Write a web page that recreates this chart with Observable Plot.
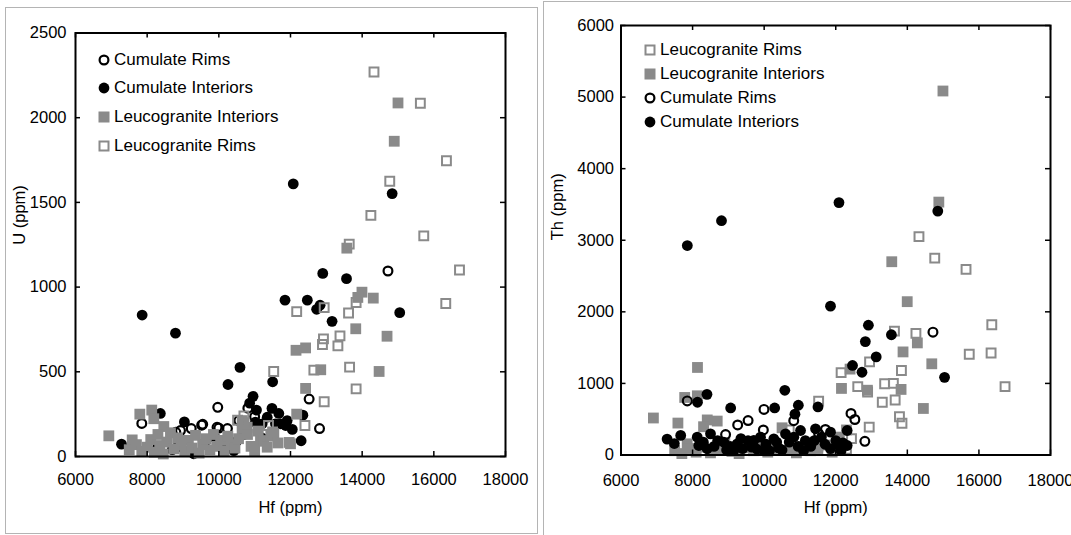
<!DOCTYPE html>
<html><head><meta charset="utf-8">
<script src="https://cdn.jsdelivr.net/npm/d3@7"></script>
<script src="https://cdn.jsdelivr.net/npm/@observablehq/plot@0.6"></script>
<style>
body{margin:0;background:#fff;width:1071px;height:535px;position:relative;overflow:hidden;font-family:"Liberation Sans",Arial,sans-serif;}
.panel{position:absolute;}
.border{position:absolute;border:1.5px solid #b4b4b4;box-sizing:border-box;}
.lg{position:absolute;font-size:17px;line-height:20px;height:20px;white-space:nowrap;color:#000;}
.lgs{position:absolute;}
</style></head><body>
<div class="border" style="left:5px;top:7px;width:533px;height:527px"></div>
<div class="border" style="left:543px;top:1px;width:540px;height:540px"></div>
<div id="left" class="panel" style="left:0;top:0"></div>
<div id="right" class="panel" style="left:540px;top:0"></div>
<div id="legend"></div>
<script>
// ---------- tick values ----------
const hfTicks = [6000, 8000, 10000, 12000, 14000, 16000, 18000];
const uTicks = [0, 500, 1000, 1500, 2000, 2500];
const thTicks = [0, 1000, 2000, 3000, 4000, 5000, 6000];

// ---------- left panel: Hf vs U ----------
const cumRimsU = [[14720,1095],[12520,339],[12810,165],[9970,290],[7850,195],[9520,185],[9230,165],[9950,172],[10240,165],[10810,285],[11000,235],[8800,143],[9550,190],[10000,168],[10560,212],[8930,153]];
const cumIntU = [[7860,835],[8790,728],[12077,1609],[14837,1552],[12900,1081],[13563,1050],[11847,923],[12470,923],[12729,869],[12825,893],[13160,798],[15048,849],[10590,526],[10256,425],[11502,441],[10955,355],[10860,315],[11051,274],[11483,284],[11674,254],[11866,183],[12345,244],[12297,93],[7284,73],[8368,254],[9039,204],[11720,193],[11020,203],[11210,193],[11350,232],[11580,193],[11907,212],[8840,55],[9300,16],[10420,35],[8700,40],[9600,80],[9900,110],[10200,50],[10700,130],[11200,110],[10500,90],[8300,60],[12050,160]];
const leucoIntU = [[15000,2087],[14895,1861],[13572,1230],[13994,970],[13879,939],[14310,935],[13821,754],[14694,710],[14473,502],[12154,627],[12422,641],[12844,512],[12422,402],[12173,250],[11962,83],[6930,122],[7795,250],[8128,274],[8186,223],[8465,177],[7582,98],[11535,134],[11163,94],[10652,212],[10791,173],[12000,75],[7500,40],[7700,70],[7850,30],[8000,55],[8100,100],[8200,25],[8300,130],[8350,65],[8450,15],[8550,85],[8650,140],[8750,45],[8850,110],[8950,70],[9050,30],[9150,95],[9250,50],[9350,125],[9450,20],[9550,70],[9650,105],[9750,40],[9850,130],[9950,60],[10050,95],[10150,30],[10250,120],[10350,70],[10450,50],[10550,105],[10650,165],[10700,200],[10800,130],[10900,60],[11000,30],[11100,150],[11250,90],[11350,55],[11450,120],[11500,145],[11650,80]];
const leucoRimsU = [[14330,2270],[15624,2085],[16352,1746],[14770,1625],[14243,1423],[15719,1302],[13639,1254],[16716,1101],[16333,903],[12173,855],[12940,879],[13620,847],[13831,909],[13381,712],[13323,653],[12920,694],[12892,661],[12652,510],[13649,528],[13831,399],[12940,323],[12403,183],[11531,502],[10524,214],[11386,183],[10700,240]];

// ---------- right panel: Hf vs Th ----------
const leucoRimsTh = [[14325,3050],[14766,2750],[15640,2593],[16360,1820],[16340,1425],[15730,1408],[16730,955],[14240,1700],[13640,1730],[13835,1180],[13366,995],[13610,1000],[13300,737],[13660,768],[13780,535],[13850,443],[12935,390],[12945,1300],[12150,1150],[12615,956],[11522,752],[12890,880],[12440,228],[10700,350],[11500,120],[12300,80]];
const leucoIntTh = [[14995,5085],[14880,3533],[13565,2700],[13997,2142],[14280,1566],[13880,1440],[14683,1274],[14448,650],[13825,916],[12885,905],[12160,930],[12400,1200],[8137,1223],[6905,517],[7590,446],[7780,804],[8133,827],[8410,490],[8688,474],[8307,395],[7849,156],[7500,60],[7700,20],[7900,90],[8100,40],[8300,110],[8500,30],[8700,80],[8900,160],[9100,50],[9300,20],[9500,100],[9700,60],[9900,130],[10100,40],[10300,90],[10500,380],[10700,70],[10900,30],[11100,120],[11300,60],[11500,90],[11700,140],[11900,40],[12100,250],[12300,350]];
const cumRimsTh = [[14716,1716],[7851,756],[9995,637],[9551,481],[9260,420],[8922,285],[9977,350],[10826,479],[12426,580],[12534,496],[12813,191],[11711,357],[11522,300]];
const cumIntTh = [[7853,2926],[8808,3273],[12090,3526],[14851,3407],[11853,2079],[12912,1813],[12827,1584],[13555,1680],[13130,1370],[12468,1251],[12733,1156],[15040,1085],[10577,904],[8402,847],[8137,737],[9064,657],[10293,657],[10955,695],[11503,671],[10860,571],[7288,222],[7490,160],[7668,274],[8130,249],[8174,133],[8408,87],[8501,296],[8700,200],[8872,179],[9050,120],[9247,156],[9400,90],[9550,200],[9710,203],[9898,249],[10050,150],[10269,226],[10400,100],[10596,296],[10700,180],[10829,249],[11016,342],[11150,200],[11300,120],[11435,366],[11600,250],[11853,319],[12000,200],[12086,133],[12319,342],[12319,133],[8300,180],[9150,60],[9800,80],[10150,60],[10950,120],[11700,150],[12200,170],[8600,120],[8950,70],[9350,230],[9650,110],[10000,60],[10350,180],[10500,70],[11100,60],[11400,200],[11850,90],[12150,60]];

// ---------- series names (legend order) ----------
const leftNames = ["Cumulate Rims", "Cumulate Interiors", "Leucogranite Interiors", "Leucogranite Rims"];
const rightNames = ["Leucogranite Rims", "Leucogranite Interiors", "Cumulate Rims", "Cumulate Interiors"];

const GREY = "#8a8a8a";
const styles = {
  "Cumulate Rims": {symbol: "circle", r: 4.4, fill: "none", stroke: "#000", sw: 2.2},
  "Cumulate Interiors": {symbol: "circle", r: 5.4, fill: "#000", stroke: "none", sw: 0},
  "Leucogranite Interiors": {symbol: "square", r: 6.1, fill: GREY, stroke: "none", sw: 0},
  "Leucogranite Rims": {symbol: "square", r: 5.0, fill: "none", stroke: GREY, sw: 2}
};

function panel(o) {
  const ih = o.height - o.mt - o.mb;
  const iw = o.width - o.ml - o.mr;
  const marks = [];
  o.series.forEach(([name, data]) => {
    const s = styles[name];
    marks.push(Plot.dot(data, {x: d => d[0], y: d => d[1], symbol: s.symbol, r: s.r, fill: s.fill, stroke: s.stroke, strokeWidth: s.sw}));
  });
  marks.push(
    Plot.tickX(hfTicks, {x: d => d, insetTop: ih - 5, stroke: "#000", strokeWidth: 1.5}),
    Plot.tickX(hfTicks, {x: d => d, insetBottom: ih - 5, stroke: "#000", strokeWidth: 1.5}),
    Plot.tickY(o.yTicks, {y: d => d, insetRight: iw - 5, stroke: "#000", strokeWidth: 1.5}),
    Plot.tickY(o.yTicks, {y: d => d, insetLeft: iw - 5, stroke: "#000", strokeWidth: 1.5}),
    Plot.axisX(hfTicks, {anchor: "bottom", tickSize: 0, tickPadding: o.xPad, tickFormat: d => String(d), label: null, fontSize: 16.5}),
    Plot.axisY(o.yTicks, {anchor: "left", tickSize: 0, tickPadding: o.yPad, tickFormat: d => String(d), label: null, fontSize: 16.5}),
    Plot.text(["Hf (ppm)"], {frameAnchor: "bottom", dy: o.xLabDy, text: d => d, fontSize: 16.5, fill: "#000"}),
    Plot.text([o.yLabel], {frameAnchor: "left", dx: o.yLabDx, text: d => d, rotate: -90, fontSize: 16.5, fill: "#000"}),
    Plot.frame({stroke: "#000", strokeWidth: 2})
  );
  return Plot.plot({
    width: o.width, height: o.height,
    marginLeft: o.ml, marginRight: o.mr, marginTop: o.mt, marginBottom: o.mb,
    x: {domain: [6000, 18000]},
    y: {domain: o.yDomain},
    style: {fontFamily: "Liberation Sans, Arial, sans-serif", fontSize: "16.5px", color: "#000", background: "transparent", overflow: "visible"},
    marks
  });
}

document.getElementById("left").append(panel({
  width: 540, height: 535, ml: 75, mr: 35, mt: 32.5, mb: 79,
  yDomain: [0, 2500], yTicks: uTicks, yLabel: "U (ppm)",
  xPad: 17, yPad: 9, xLabDy: 56, yLabDx: -56,
  series: [["Cumulate Rims", cumRimsU], ["Cumulate Interiors", cumIntU], ["Leucogranite Interiors", leucoIntU], ["Leucogranite Rims", leucoRimsU]]
}));
document.getElementById("right").append(panel({
  width: 531, height: 535, ml: 80.5, mr: 21, mt: 25, mb: 80.5,
  yDomain: [0, 6000], yTicks: thTicks, yLabel: "Th (ppm)",
  xPad: 19, yPad: 7, xLabDy: 57.5, yLabDx: -63,
  series: [["Leucogranite Rims", leucoRimsTh], ["Leucogranite Interiors", leucoIntTh], ["Cumulate Rims", cumRimsTh], ["Cumulate Interiors", cumIntTh]]
}));

// ---------- legends ----------
function symbolSvg(name) {
  const s = styles[name];
  let shape;
  if (s.symbol === "circle") {
    shape = s.fill === "none"
      ? `<circle cx="7" cy="7" r="4.4" fill="none" stroke="#000" stroke-width="2.2"/>`
      : `<circle cx="7" cy="7" r="5.4" fill="#000"/>`;
  } else {
    shape = s.fill === "none"
      ? `<rect x="2.5" y="2.5" width="9" height="9" fill="none" stroke="${GREY}" stroke-width="2"/>`
      : `<rect x="1.5" y="1.5" width="11" height="11" fill="${GREY}"/>`;
  }
  return `<svg width="14" height="14">${shape}</svg>`;
}
const leg = document.getElementById("legend");
function addLegend(names, mx, tx, y0, dy) {
  names.forEach((n, i) => {
    const cy = y0 + i * dy;
    const s = document.createElement("div");
    s.className = "lgs"; s.style.left = (mx - 7) + "px"; s.style.top = (cy - 7) + "px";
    s.innerHTML = symbolSvg(n);
    leg.append(s);
    const t = document.createElement("div");
    t.className = "lg"; t.style.left = tx + "px"; t.style.top = (cy - 10) + "px";
    t.textContent = n;
    leg.append(t);
  });
}
addLegend(leftNames, 104, 114, 59.6, 28.8);
addLegend(rightNames, 650, 660, 50.2, 23.9);
</script>
</body></html>
